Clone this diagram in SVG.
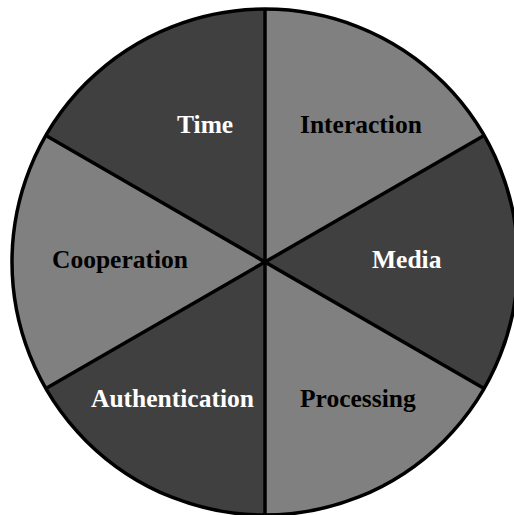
<svg xmlns="http://www.w3.org/2000/svg" width="514" height="515" viewBox="0 0 514 515">
<style>
.dark{fill:#404040}
.light{fill:#808080}
.lbl{font-family:"Liberation Serif","Times New Roman",serif;font-weight:bold;font-size:25.5px}
.w{fill:#ffffff}
.b{fill:#000000}
.sep{stroke:#000;stroke-width:3.5;fill:none}
</style>
<rect width="514" height="515" fill="#ffffff"/>
<g id="time"><path class="dark" d="M265,262 L265,9 A253,253 0 0 0 45.9,135.5 Z"/><text class="lbl w" x="177" y="133">Time</text></g>
<g id="interaction"><path class="light" d="M265,262 L265,9 A253,253 0 0 1 484.1,135.5 Z"/><text class="lbl b" x="300" y="133">Interaction</text></g>
<g id="media"><path class="dark" d="M265,262 L484.1,135.5 A253,253 0 0 1 484.1,388.5 Z"/><text class="lbl w" x="372" y="268">Media</text></g>
<g id="processing"><path class="light" d="M265,262 L484.1,388.5 A253,253 0 0 1 265,515 Z"/><text class="lbl b" x="300" y="407">Processing</text></g>
<g id="authentication"><path class="dark" d="M265,262 L265,515 A253,253 0 0 1 45.9,388.5 Z"/><text class="lbl w" x="91" y="407">Authentication</text></g>
<g id="cooperation"><path class="light" d="M265,262 L45.9,388.5 A253,253 0 0 1 45.9,135.5 Z"/><text class="lbl b" x="52" y="268">Cooperation</text></g>
<g id="connectors">
<circle class="sep" cx="265" cy="262" r="253" stroke-width="3"/>
<line class="sep" x1="265" y1="9" x2="265" y2="515"/>
<line class="sep" x1="45.9" y1="135.5" x2="484.1" y2="388.5"/>
<line class="sep" x1="45.9" y1="388.5" x2="484.1" y2="135.5"/>
</g>
</svg>
